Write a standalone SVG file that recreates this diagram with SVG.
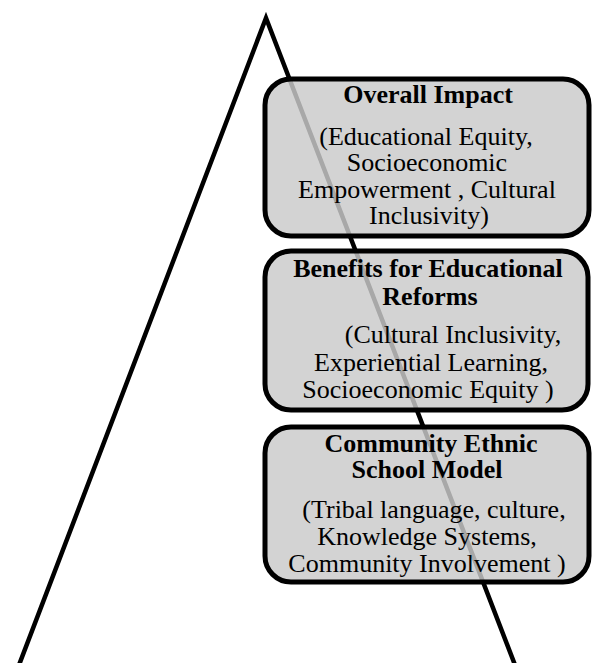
<svg xmlns="http://www.w3.org/2000/svg" width="592" height="663" viewBox="0 0 592 663">
<style>
.box{fill:#cacaca;fill-opacity:0.83;stroke:#000;stroke-width:5}
.t{font-family:"Liberation Serif","Times New Roman",serif;font-size:26px;fill:#000;text-anchor:middle}
.b{font-weight:bold}
</style>
<rect width="592" height="663" fill="#fff"/>
<g id="connectors">
<polyline points="19,665 266,18 515,665" fill="none" stroke="#000" stroke-width="4.5" stroke-linejoin="miter"/>
</g>
<g id="overall-impact">
<rect class="box" x="265" y="79" width="324" height="157" rx="26"/>
<text class="t b" x="428" y="103">Overall Impact</text>
<text class="t" x="426" y="145">(Educational Equity,</text>
<text class="t" x="427" y="171">Socioeconomic</text>
<text class="t" x="427" y="198">Empowerment , Cultural</text>
<text class="t" x="429" y="224">Inclusivity)</text>
</g>
<g id="benefits">
<rect class="box" x="265" y="251" width="323" height="159" rx="26"/>
<text class="t b" x="428" y="277">Benefits for Educational</text>
<text class="t b" x="430" y="305">Reforms</text>
<text class="t" x="453" y="343">(Cultural Inclusivity,</text>
<text class="t" x="431" y="371">Experiential Learning,</text>
<text class="t" x="428" y="398">Socioeconomic Equity )</text>
</g>
<g id="community-model">
<rect class="box" x="265" y="427" width="324" height="155" rx="26"/>
<text class="t b" x="431" y="452">Community Ethnic</text>
<text class="t b" x="427" y="478">School Model</text>
<text class="t" x="434" y="518">(Tribal language, culture,</text>
<text class="t" x="427" y="545">Knowledge Systems,</text>
<text class="t" x="427" y="572">Community Involvement )</text>
</g>
</svg>
